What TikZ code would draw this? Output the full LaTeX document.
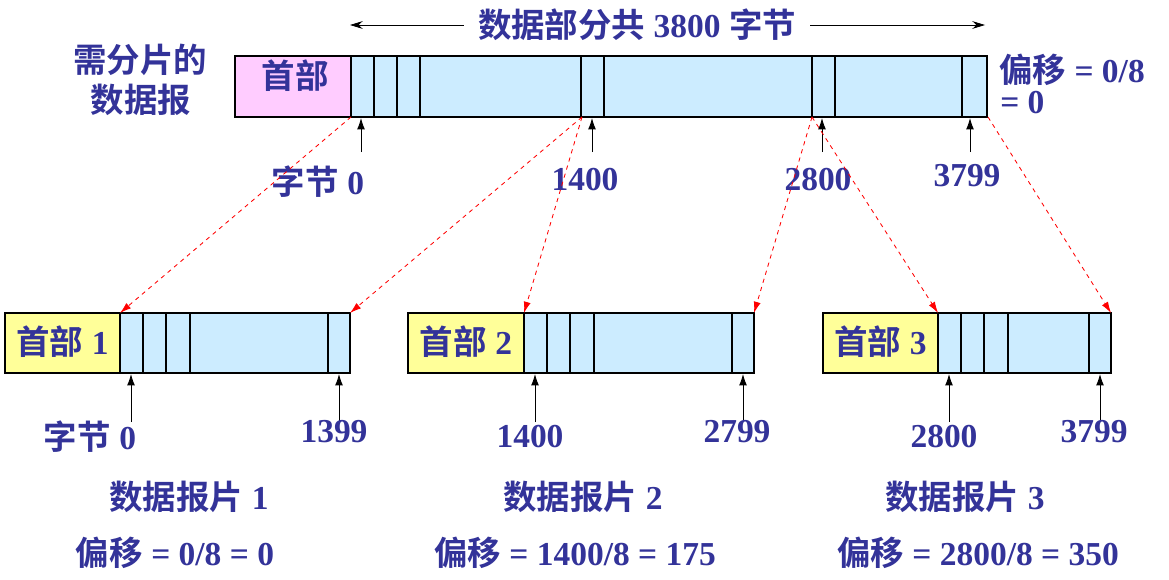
\documentclass[tikz,border=0pt]{standalone}
\usepackage{fontspec}
\setmainfont{Liberation Serif}
\newfontfamily\cjk[BoldFont={Noto Sans CJK SC Bold}]{Noto Sans CJK SC}
\newcommand\zh[1]{{\cjk\bfseries #1}}
\usetikzlibrary{arrows.meta}
\definecolor{txtblue}{HTML}{333399}
\definecolor{datblue}{HTML}{CCECFF}
\definecolor{hdrpink}{HTML}{FFCCFF}
\definecolor{hdryel}{HTML}{FFFF99}
\tikzset{
  lbl/.style={text=txtblue,font=\fontsize{23.8}{28}\selectfont\bfseries,inner sep=0pt},
  tickarr/.style={-{Latex[length=8pt,width=5.5pt]},line width=0.6pt},
  cutarr/.style={-{Latex[length=8pt,width=5pt]},red,dashed,line width=0.6pt},
  dimarr/.style={-{Stealth[length=9pt,width=5.5pt]},line width=0.6pt},
}
\begin{document}
\begin{tikzpicture}[x=0.025cm,y=-0.025cm]
  \useasboundingbox (0,0) rectangle (1169,579);
  % datagram to be fragmented
  \fill[datblue] (351,56) rectangle (987,117);
  \fill[hdrpink] (235,56) rectangle (351,117);
  \foreach \x in {351,374,397,420,581,604,812,835,962}
    \draw[line width=1.4pt] (\x,56) -- (\x,117);
  \draw[line width=2pt] (235,56) rectangle (987,117);
  \node[lbl] (hdr) at (295,76) {\zh{首部}};
  \node[lbl] (need1) at (140,60) {\zh{需分片的}};
  \node[lbl] (need2) at (141,100) {\zh{数据报}};
  \node[lbl] (off0a) at (1072,70) {\zh{偏移} = 0/8};
  \node[lbl,anchor=west] (off0b) at (1000,103) {= 0};
  % total length
  \node[lbl,inner xsep=10pt] (total) at (637,25) {\zh{数据部分共} 3800 \zh{字节}};
  \coordinate (tl) at (350,25);
  \coordinate (tr) at (985,25);
  \draw[dimarr] (total) -- (tl);
  \draw[dimarr] (total) -- (tr);
  % byte positions
  \coordinate (d0) at (351,117);
  \coordinate (d1400) at (582,117);
  \coordinate (d2800) at (812,117);
  \coordinate (dend) at (988,117);
  \foreach \x/\n in {361/a,592/b,822/c,970/d}{
    \coordinate (p\n) at (\x,152);
    \coordinate (q\n) at (\x,118);
    \draw[tickarr] (p\n) -- (q\n);
  }
  \node[lbl] (b0) at (318,182) {\zh{字节} 0};
  \node[lbl] (b1400) at (585,180) {1400};
  \node[lbl] (b2800) at (818,180) {2800};
  \node[lbl] (b3799) at (967,176) {3799};
  % fragments
  \foreach \x/\h/\e [count=\i] in {5/120/350, 408/524/754, 823/938/1111}{
    \fill[hdryel] (\x,313) rectangle (\h,373);
    \fill[datblue] (\h,313) rectangle (\e,373);
    \foreach \d in {0,23,46,70}
      \draw[line width=1.4pt] (\h+\d,313) -- (\h+\d,373);
    \draw[line width=1.4pt] (\e-22,313) -- (\e-22,373);
    \draw[line width=0.8pt] (\x,313) rectangle (\e,373);
    \node[lbl] (hd\i) at ({(\x+\h)/2},342) {\zh{首部} \i};
    \coordinate (f\i h) at (\h,313);
    \coordinate (f\i e) at (\e,313);
    \coordinate (s\i) at (\h+11,422);
    \coordinate (t\i) at (\h+11,374);
    \coordinate (u\i) at (\e-11,422);
    \coordinate (v\i) at (\e-11,374);
    \draw[tickarr] (s\i) -- (t\i);
    \draw[tickarr] (u\i) -- (v\i);
  }
  \node[lbl] (fb1) at (90,437) {\zh{字节} 0};
  \node[lbl] (fe1) at (334,432) {1399};
  \node[lbl] (fb2) at (530,437) {1400};
  \node[lbl] (fe2) at (737,432) {2799};
  \node[lbl] (fb3) at (944,437) {2800};
  \node[lbl] (fe3) at (1094,432) {3799};
  \node[lbl] (nm1) at (189,497) {\zh{数据报片} 1};
  \node[lbl] (nm2) at (583,497) {\zh{数据报片} 2};
  \node[lbl] (nm3) at (965,497) {\zh{数据报片} 3};
  \node[lbl] (of1) at (175,553) {\zh{偏移} = 0/8 = 0};
  \node[lbl] (of2) at (575,553) {\zh{偏移} = 1400/8 = 175};
  \node[lbl] (of3) at (978,553) {\zh{偏移} = 2800/8 = 350};
  % where the pieces go
  \draw[cutarr] (d0) -- (f1h);
  \draw[cutarr] (d1400) -- (f1e);
  \draw[cutarr] (d1400) -- (f2h);
  \draw[cutarr] (d2800) -- (f2e);
  \draw[cutarr] (d2800) -- (f3h);
  \draw[cutarr] (dend) -- (f3e);
\end{tikzpicture}
\end{document}
